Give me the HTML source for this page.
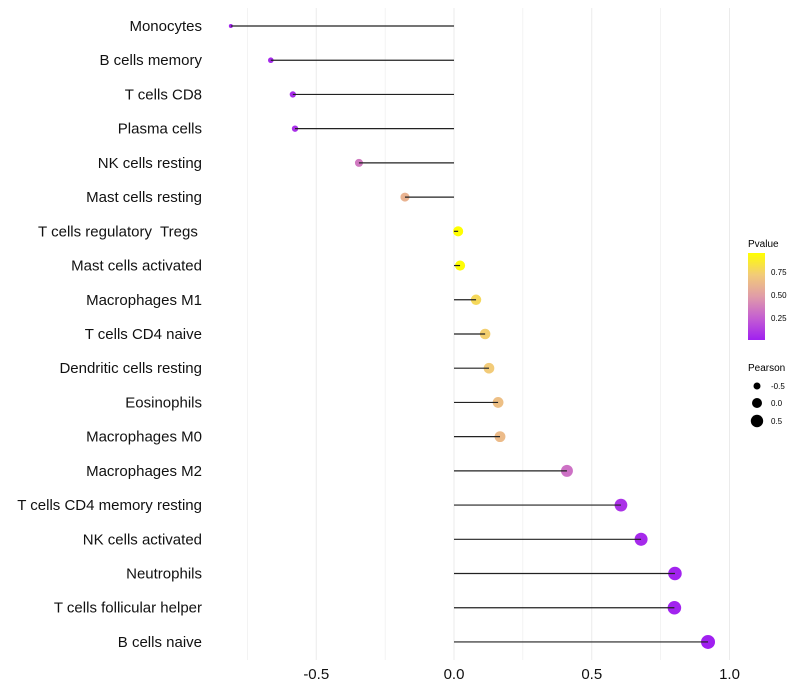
<!DOCTYPE html>
<html><head><meta charset="utf-8"><style>
body{margin:0;background:#fff;}
svg{display:block;font-family:"Liberation Sans",sans-serif;}
text{white-space:pre;}
</style></head><body>
<svg id="chart" width="800" height="700">
<defs><linearGradient id="pg" x1="0" y1="1" x2="0" y2="0">
<stop offset="0" stop-color="#A020F0"/><stop offset="0.25" stop-color="#C45ED2"/>
<stop offset="0.5" stop-color="#E09CA8"/><stop offset="0.75" stop-color="#F2CB78"/>
<stop offset="1" stop-color="#FFFF00"/></linearGradient></defs>
<g id="grid"></g><g id="marks"></g><g id="labels"></g>
<g>
<text x="748" y="247" font-size="10" fill="#000">Pvalue</text>
<rect x="748" y="253" width="17" height="87" fill="url(#pg)"/>
<text x="771" y="275" font-size="8">0.75</text>
<text x="771" y="298" font-size="8">0.50</text>
<text x="771" y="321" font-size="8">0.25</text>
</g>
<g>
<text x="748" y="371" font-size="10">Pearson</text>
<circle cx="757" cy="386" r="3.5" fill="#000"/><text x="771" y="389" font-size="8">-0.5</text>
<circle cx="757" cy="403" r="5" fill="#000"/><text x="771" y="406" font-size="8">0.0</text>
<circle cx="757" cy="421" r="6.2" fill="#000"/><text x="771" y="424" font-size="8">0.5</text>
</g>
</svg>
<script>
const categories=["Monocytes","B cells memory","T cells CD8","Plasma cells","NK cells resting","Mast cells resting","T cells regulatory  Tregs ","Mast cells activated","Macrophages M1","T cells CD4 naive","Dendritic cells resting","Eosinophils","Macrophages M0","Macrophages M2","T cells CD4 memory resting","NK cells activated","Neutrophils","T cells follicular helper","B cells naive"];
const pearson=[-0.81,-0.665,-0.585,-0.577,-0.345,-0.178,0.015,0.022,0.08,0.113,0.127,0.16,0.167,0.41,0.606,0.679,0.802,0.80,0.922];
const pvalues=[0.03,0.05,0.06,0.07,0.35,0.6,0.97,0.95,0.78,0.74,0.72,0.66,0.64,0.32,0.08,0.05,0.02,0.02,0.01];
const xTicks=[-0.5,0,0.5,1.0];
const xTickLabels=["-0.5","0.0","0.5","1.0"];
const NS="http://www.w3.org/2000/svg";
const x=v=>454+v*275.5, y=i=>26+i*34.22;
const minV=Math.min(...pearson), maxV=Math.max(...pearson);
const rad=v=>Math.sqrt(4+45*(v-minV)/(maxV-minV));
const stops=[[0,[160,32,240]],[0.25,[196,94,210]],[0.5,[224,156,168]],[0.75,[242,203,120]],[1,[255,255,0]]];
function col(p){p=Math.max(0,Math.min(1,(p-0.01)/0.95));for(let k=1;k<stops.length;k++){if(p<=stops[k][0]){const a=stops[k-1],b=stops[k],t=(p-a[0])/(b[0]-a[0]);return "rgb("+a[1].map((c,j)=>Math.round(c+(b[1][j]-c)*t)).join(",")+")";}}return "rgb(255,255,0)";}
function mk(tag,at,par){const e=document.createElementNS(NS,tag);for(const k in at)e.setAttribute(k,at[k]);par.appendChild(e);return e;}
const G=document.getElementById("grid"),M=document.getElementById("marks"),L=document.getElementById("labels");
for(let v=-0.75;v<=1.01;v+=0.25){const g=mk("line",{x1:x(v),x2:x(v),y1:8,y2:660,stroke:"#ebebeb","stroke-width":(Math.abs(v*2-Math.round(v*2))<1e-6)?1:0.6},G);

}
xTicks.forEach((v,i)=>{const t=mk("text",{x:x(v),y:679,"text-anchor":"middle","font-size":"15",fill:"#111"},L);t.textContent=xTickLabels[i];

});
categories.forEach((c,i)=>{
const t=mk("text",{x:202,y:y(i)+5,"text-anchor":"end","font-size":"15",fill:"#111"},L);t.textContent=c;


const p=mk("circle",{cx:x(pearson[i]),cy:y(i),r:rad(pearson[i]),fill:col(pvalues[i])},M);


const s=mk("line",{x1:x(0),x2:x(pearson[i]),y1:y(i),y2:y(i),stroke:"#222","stroke-width":1.2},M);


});
</script>
</body></html>
